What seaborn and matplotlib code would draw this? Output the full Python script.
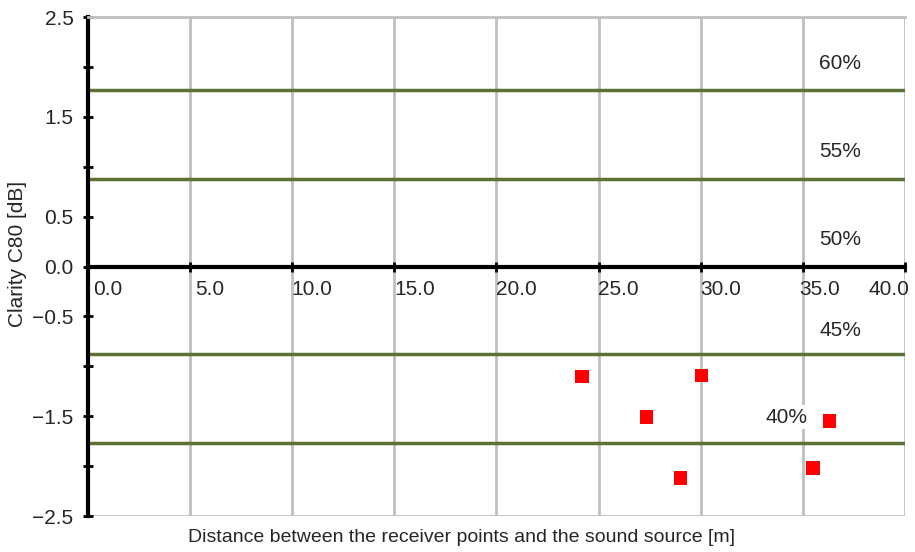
import matplotlib
matplotlib.use("Agg")
import matplotlib.pyplot as plt
import matplotlib.transforms as mtransforms
import seaborn as sns
import pandas as pd

# Data
distance = [24.2, 27.35, 30.05, 29.0, 36.3, 35.5]
clarity = [-1.10, -1.51, -1.09, -2.12, -1.55, -2.02]

limit_levels = [1.77, 0.88, -0.88, -1.77]
pct_labels = ["60%", "55%", "50%", "45%", "40%"]
pct_x = [35.8, 35.8, 35.8, 35.8, 33.15]
pct_y = [2.04, 1.15, 0.27, -0.64, -1.51]

x_ticks = [0, 5, 10, 15, 20, 25, 30, 35, 40]
x_tick_labels = ["0.0", "5.0", "10.0", "15.0", "20.0", "25.0", "30.0", "35.0", "40.0"]
y_ticks = [2.5, 1.5, 0.5, 0.0, -0.5, -1.5, -2.5]
y_tick_labels = ["2.5", "1.5", "0.5", "0.0", "\u22120.5", "\u22121.5", "\u22122.5"]
y_minor = [2.0, 1.0, -1.0, -2.0]

sns.set_theme(style="white")
plt.rcParams["font.family"] = ["Liberation Sans", "DejaVu Sans"]

FS = 15

fig = plt.figure(figsize=(9.15, 5.52), dpi=100)
ax = fig.add_axes([0.0962, 0.0652, 0.989 - 0.0962, 0.969 - 0.0652])

df = pd.DataFrame({"d": distance, "c": clarity})

# vertical grid lines
for xv in x_ticks[1:]:
    ax.axvline(xv, color="#c0c0c0", lw=2, zorder=0)

for lv in limit_levels:
    ax.axhline(lv, color="#5c7233", lw=2.5, zorder=1)

sns.scatterplot(data=df, x="d", y="c", marker="s", color="#ff0000", s=95,
                edgecolor="none", ax=ax, zorder=3)

for t, xx, yy in zip(pct_labels, pct_x, pct_y):
    ax.text(xx, yy, t, fontsize=FS, ha="left", va="center", zorder=4,
            bbox=dict(facecolor="white", edgecolor="none", pad=2))

ax.set_xlim(0, 40)
ax.set_ylim(-2.5, 2.5)

# spines
ax.spines["left"].set_position(("data", 0))
ax.spines["left"].set_color("black")
ax.spines["left"].set_linewidth(3)
ax.spines["bottom"].set_position(("data", 0))
ax.spines["bottom"].set_color("black")
ax.spines["bottom"].set_linewidth(3)
ax.spines["top"].set_color("#c0c0c0")
ax.spines["top"].set_linewidth(2)
ax.spines["right"].set_visible(False)

ax.axhline(-2.5, color="#c0c0c0", lw=2, zorder=0)

ax.set_xticks(x_ticks)
ax.set_xticklabels(x_tick_labels, fontsize=FS)
ax.set_yticks(y_ticks)
ax.set_yticklabels(y_tick_labels, fontsize=FS)
ax.set_yticks(y_minor, minor=True)
ax.tick_params(axis="both", which="both", direction="inout", length=7, width=2,
               color="black", left=True, bottom=True)
ax.tick_params(axis="x", pad=6)
ax.tick_params(axis="y", pad=7)

# shift x tick labels to the right like the reference
offset = mtransforms.ScaledTranslation(20 / 100, 0, fig.dpi_scale_trans)
labels = ax.get_xticklabels()
for i, lab in enumerate(labels):
    if i == len(labels) - 1:
        lab.set_transform(lab.get_transform() + mtransforms.ScaledTranslation(-16 / 100, 0, fig.dpi_scale_trans))
    elif i == len(labels) - 2:
        lab.set_transform(lab.get_transform() + mtransforms.ScaledTranslation(17 / 100, 0, fig.dpi_scale_trans))
    else:
        lab.set_transform(lab.get_transform() + offset)

ax.set_xlabel("")
ax.set_ylabel("")
fig.text(0.504, 0.027, "Distance between the receiver points and the sound source [m]",
         ha="center", va="center", fontsize=14)
fig.text(0.019, 0.54, "Clarity C80 [dB]", rotation=90, ha="center", va="center",
         fontsize=FS)

fig.savefig("out.png", dpi=100)
